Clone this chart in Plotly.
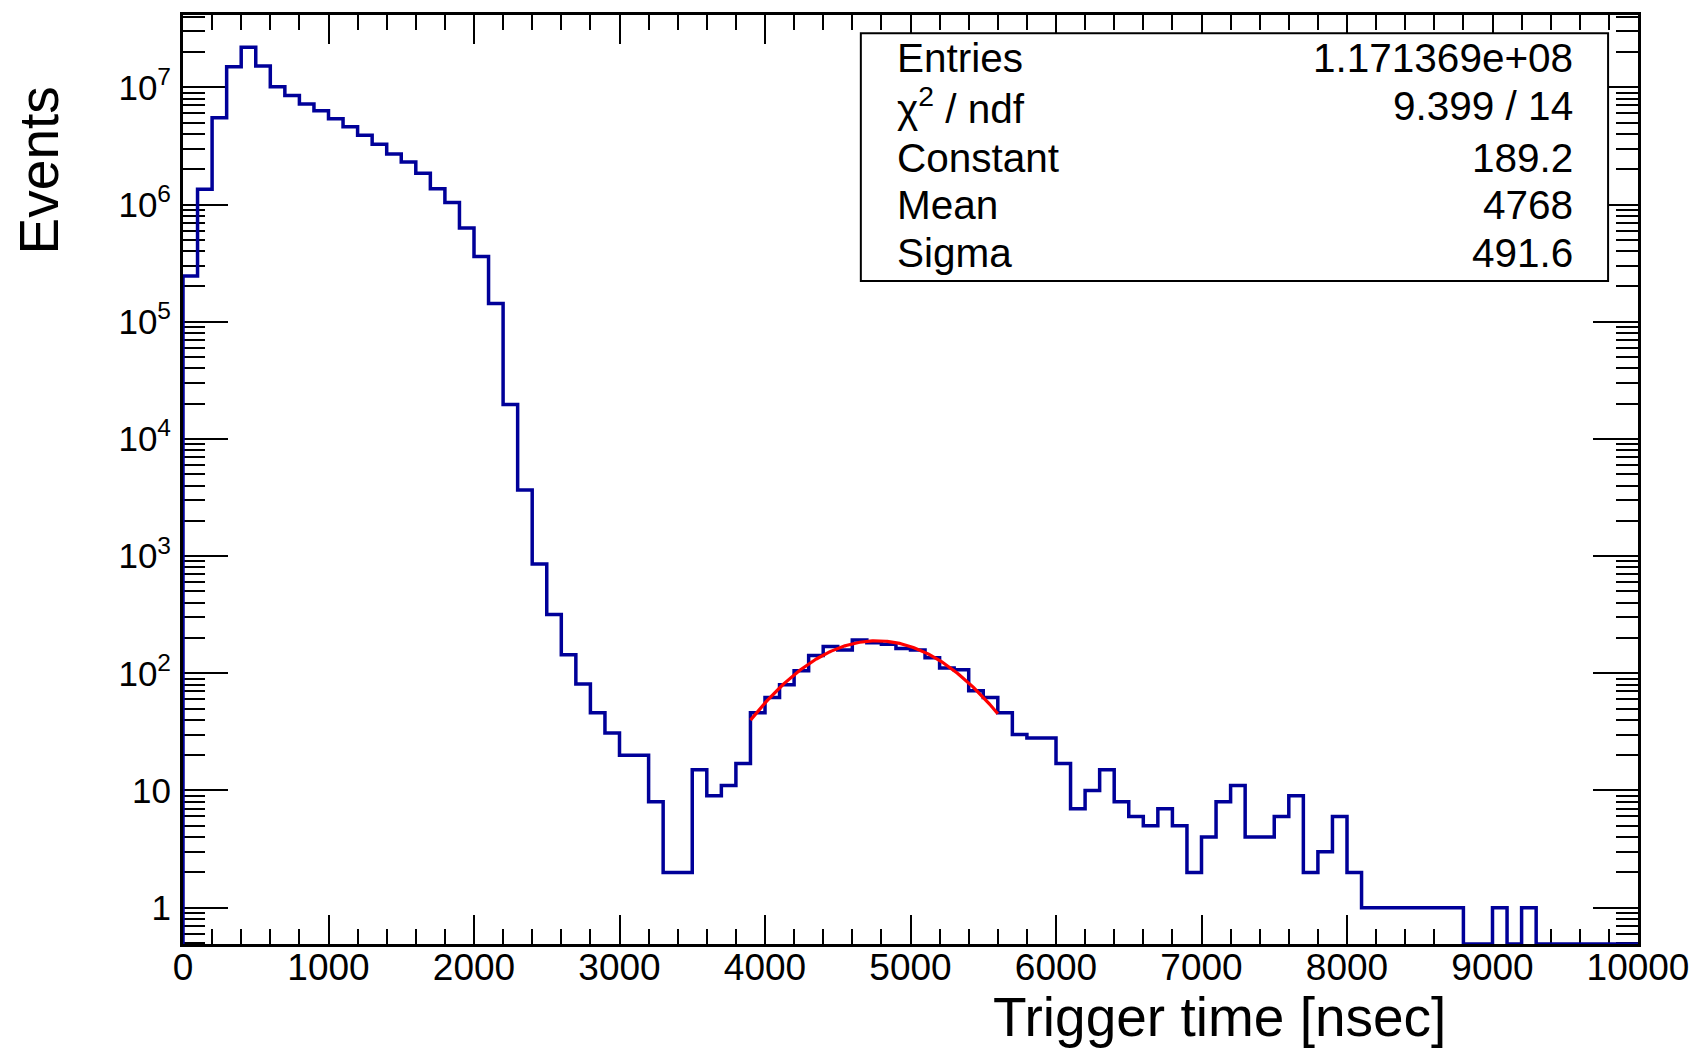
import numpy as np
import plotly.graph_objects as go

# ---------------- data ----------------
BIN_LOW = 0
BIN_WIDTH = 100
COUNTS = [
    2.45e5, 1.35e6, 5.5e6, 1.5e7, 2.2e7, 1.52e7, 1.01e7, 8.5e6, 7.2e6, 6.3e6,
    5.4e6, 4.6e6, 3.9e6, 3.27e6, 2.7e6, 2.3e6, 1.85e6, 1.36e6, 1.04e6, 6.3e5,
    3.6e5, 1.43e5, 19700, 3660, 855, 318, 144, 81, 46, 31,
    20, 20, 8, 2, 2, 15, 9, 11, 17, 46,
    62, 80, 105, 142, 169, 158, 192, 182, 177, 163,
    158, 136, 111, 107, 71, 62, 46, 30, 28, 28,
    17, 7, 10, 15, 8, 6, 5, 7, 5, 2,
    4, 8, 11, 4, 4, 6, 9, 2, 3, 6,
    2, 1, 1, 1, 1, 1, 1, 1, 0, 0,
    1, 0, 1, 0, 0, 0, 0, 0, 0, 0,
]

X_TICKS = [0, 1000, 2000, 3000, 4000, 5000, 6000, 7000, 8000, 9000, 10000]
X_TICK_LABELS = [str(v) for v in X_TICKS]
Y_TICKS = [1, 10, 1e2, 1e3, 1e4, 1e5, 1e6, 1e7]
Y_TICK_LABELS = ["1", "10", "10<sup>2</sup>", "10<sup>3</sup>", "10<sup>4</sup>",
                 "10<sup>5</sup>", "10<sup>6</sup>", "10<sup>7</sup>"]

FIT_CONSTANT = 189.2
FIT_MEAN = 4768
FIT_SIGMA = 491.6
FIT_RANGE = (3900, 5600)

STATS_LABELS = ["Entries", "\u03c7<sup>2</sup> / ndf", "Constant", "Mean", "Sigma"]
STATS_VALUES = ["1.171369e+08", "9.399 / 14", "189.2", "4768", "491.6"]

X_TITLE = "Trigger time [nsec]"
Y_TITLE = "Events"

# ---------------- layout geometry ----------------
W, H = 1701, 1048
L, R, T, B = 183, 59, 15, 104
PW = W - L - R
PH = H - T - B
Y_RANGE_LOG = [-0.31, 7.617]
X_RANGE = [0, 10000]
FLOOR = 10 ** Y_RANGE_LOG[0]

def px(xp):
    return (xp - L) / PW

def py(yp):
    return (H - B - yp) / PH

FONT = "Liberation Sans, Arial, Helvetica, sans-serif"
HIST_COLOR = "#000099"

# ---------------- histogram outline ----------------
n = len(COUNTS)
edges = [BIN_LOW + i * BIN_WIDTH for i in range(n + 1)]
vals = [c if c > 0 else FLOOR for c in COUNTS]
hx = [edges[0]] + edges[:-1] + [edges[-1], edges[-1]]
hy = [FLOOR] + vals + [vals[-1], FLOOR]

fig = go.Figure()
fig.add_trace(go.Scatter(
    x=hx, y=hy, mode="lines", line=dict(color=HIST_COLOR, width=3.5, shape="hv"),
    hoverinfo="skip", showlegend=False,
))

# ---------------- gaussian fit curve ----------------
fx = np.linspace(FIT_RANGE[0], FIT_RANGE[1], 200)
fy = FIT_CONSTANT * np.exp(-0.5 * ((fx - FIT_MEAN) / FIT_SIGMA) ** 2)
fig.add_trace(go.Scatter(
    x=fx, y=fy, mode="lines", line=dict(color="#ff0000", width=3.2),
    hoverinfo="skip", showlegend=False,
))

# ---------------- axes ----------------
minor_y = []
for d in range(-1, 8):
    for k in range(2, 10):
        v = k * 10 ** d
        if Y_RANGE_LOG[0] <= np.log10(v) <= Y_RANGE_LOG[1]:
            minor_y.append(v)

fig.update_xaxes(
    range=X_RANGE, showgrid=False, zeroline=False,
    showline=True, linecolor="black", linewidth=3, mirror="ticks",
    ticks="inside", ticklen=29, tickwidth=2, tickcolor="black",
    tickmode="array", tickvals=X_TICKS, ticktext=X_TICK_LABELS,
    tickfont=dict(family=FONT, size=37, color="black"),
    ticklabelstandoff=-11,
    minor=dict(ticks="inside", ticklen=15, tickwidth=2, tickcolor="black", dtick=200, tick0=0, showgrid=False),
    layer="below traces",
)
fig.update_yaxes(
    type="log", range=Y_RANGE_LOG, showgrid=False, zeroline=False,
    showline=True, linecolor="black", linewidth=3, mirror="ticks",
    ticks="inside", ticklen=45, tickwidth=2, tickcolor="black",
    tickmode="array", tickvals=Y_TICKS, ticktext=Y_TICK_LABELS,
    tickfont=dict(family=FONT, size=35, color="black"),
    ticklabelstandoff=2,
    minor=dict(ticks="inside", ticklen=22, tickwidth=2, tickcolor="black",
               tickmode="array", tickvals=minor_y, showgrid=False),
    layer="below traces",
)

# ---------------- stats box ----------------
shapes = [dict(type="rect", xref="paper", yref="paper",
               x0=px(862.7), x1=px(1612), y0=py(281), y1=py(33.3),
               fillcolor="white", line=dict(color="black", width=2), layer="above")]

annotations = []
row_y = [57.7, 106.5, 157.7, 205, 253]
for lab, val, yy in zip(STATS_LABELS, STATS_VALUES, row_y):
    annotations.append(dict(xref="paper", yref="paper", x=px(897), y=py(yy),
                            text=lab, showarrow=False, xanchor="left", yanchor="middle",
                            font=dict(family=FONT, size=40.5, color="black")))
    annotations.append(dict(xref="paper", yref="paper", x=px(1579), y=py(yy),
                            text=val, showarrow=False, xanchor="right", yanchor="middle",
                            font=dict(family=FONT, size=40.5, color="black")))

annotations.append(dict(xref="paper", yref="paper", x=px(1451), y=py(1016.5),
                        text=X_TITLE, showarrow=False, xanchor="right", yanchor="middle",
                        font=dict(family=FONT, size=55, color="black")))
annotations.append(dict(xref="paper", yref="paper", x=px(39), y=py(170),
                        text=Y_TITLE, showarrow=False, xanchor="center", yanchor="middle",
                        textangle=-90,
                        font=dict(family=FONT, size=55, color="black")))

fig.update_layout(
    width=W, height=H,
    margin=dict(l=L, r=R, t=T, b=B),
    paper_bgcolor="white", plot_bgcolor="white",
    shapes=shapes, annotations=annotations,
    showlegend=False,
)

fig.write_html("out.html", config={"displayModeBar": False})
